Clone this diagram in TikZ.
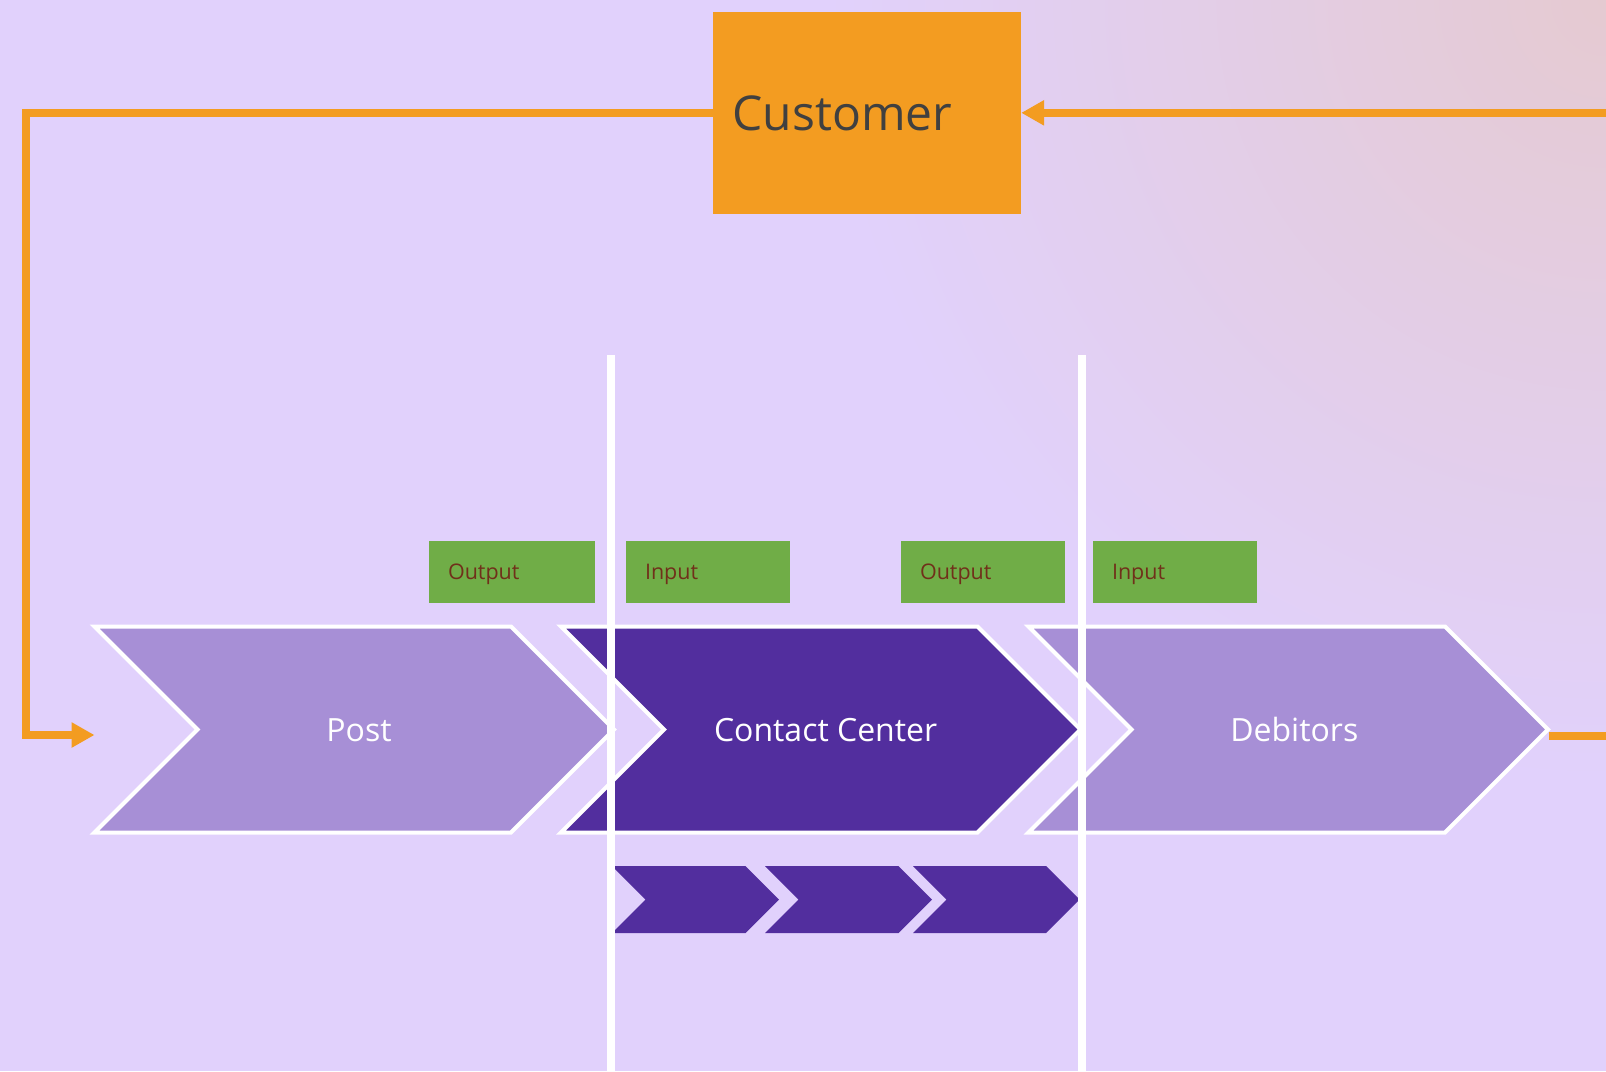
\documentclass[tikz,border=0pt]{standalone}
\usepackage{fontspec}
\setmainfont{Open Sans}
\usetikzlibrary{arrows.meta}
\definecolor{bgc}{RGB}{225,209,252}
\definecolor{pinkc}{RGB}{229,202,209}
\definecolor{lightp}{RGB}{167,143,214}
\definecolor{darkp}{RGB}{82,46,158}
\definecolor{greenc}{RGB}{112,173,71}
\definecolor{orangec}{RGB}{243,156,33}
\definecolor{greyt}{RGB}{64,64,64}
\definecolor{brownt}{RGB}{112,48,26}
\tikzset{
  chevlight/.style={fill=lightp, draw=white, line width=4pt, line join=miter},
  chevdark/.style={fill=darkp, draw=white, line width=4pt, line join=miter},
  minichev/.style={fill=darkp},
  divider/.style={draw=white, line width=8pt},
  conn/.style={draw=orangec, line width=8pt, line join=miter},
  tipc/.style={-{Triangle[length=23pt,width=24pt]}},
  custbox/.style={fill=orangec, minimum height=201.7pt, text width=268.3pt, inner xsep=20pt, inner ysep=0pt,
    align=left, text height=34.3pt, text depth=0pt, text=greyt, font=\fontsize{48}{56}\selectfont},
  iobox/.style={fill=greenc, minimum height=61.7pt, inner xsep=19pt, inner ysep=0pt, align=left,
    text height=15.35pt, text depth=0pt, text=brownt, font=\fontsize{21.5}{26}\selectfont},
  chevlabel/.style={text=white, text height=22.85pt, text depth=0pt, inner sep=0pt, font=\fontsize{32}{38}\selectfont}
}
\begin{document}
\begin{tikzpicture}[x=1pt,y=-1pt]
\useasboundingbox (0,0) rectangle (1606,1071);
\begin{scope}
\clip (0,0) rectangle (1606,1071);
\fill[bgc] (0,0) rectangle (1606,1071);
\shade[inner color=pinkc, outer color=bgc] (1606,0) circle [radius=780pt];
\end{scope}

% Customer
\node[custbox] (cust) at (866.85,112.85) {Customer};

% green boxes
\node[iobox, text width=128pt] (out1) at (512,571.85) {Output};
\node[iobox, text width=126pt] (in1) at (708,571.85) {Input};
\node[iobox, text width=126pt] (out2) at (983,571.85) {Output};
\node[iobox, text width=126pt] (in2) at (1175,571.85) {Input};

% chevrons
\path[chevlight] (94.5,626.5) -- (511,626.5) -- (614,729.5) -- (511,832.5) -- (94.5,832.5) -- (197.5,729.5) -- cycle;
\path[chevdark] (561,626.5) -- (977.5,626.5) -- (1080.5,729.5) -- (977.5,832.5) -- (561,832.5) -- (664,729.5) -- cycle;
\path[chevlight] (1028.5,626.5) -- (1445,626.5) -- (1548,729.5) -- (1445,832.5) -- (1028.5,832.5) -- (1131.5,729.5) -- cycle;

\node[chevlabel] (post) at (359,730.5) {Post};
\node[chevlabel] (cc) at (825.6,730.5) {Contact Center};
\node[chevlabel] (deb) at (1294.3,730.5) {Debitors};

% small chevrons
\path[minichev] (612,866) -- (745.5,866) -- (779,899.5) -- (745.5,933) -- (612,933) -- (645.5,899.5) -- cycle;
\path[minichev] (765,866) -- (898.5,866) -- (932,899.5) -- (898.5,933) -- (765,933) -- (798.5,899.5) -- cycle;
\path[minichev] (913,866) -- (1046,866) -- (1079.5,899.5) -- (1046,933) -- (913,933) -- (946.5,899.5) -- cycle;

% dividers
\coordinate (d1top) at (611.4,355);
\coordinate (d1bot) at (611.4,1071);
\coordinate (d2top) at (1081.8,355);
\coordinate (d2bot) at (1081.8,1071);
\draw[divider] (d1top) -- (d1bot);
\draw[divider] (d2top) -- (d2bot);

% connectors
\coordinate (lcorner) at (26,112.85);
\coordinate (postin) at (94.5,735);
\coordinate (redgetop) at (1606,112.85);
\coordinate (debout) at (1549,735.5);
\coordinate (redgebot) at (1606,735.5);
\draw[conn, tipc] (cust.west) -- (lcorner) |- (postin);
\draw[conn, tipc] (redgetop) -- (cust.east);
\draw[conn] (debout) -- (redgebot);
\end{tikzpicture}
\end{document}
